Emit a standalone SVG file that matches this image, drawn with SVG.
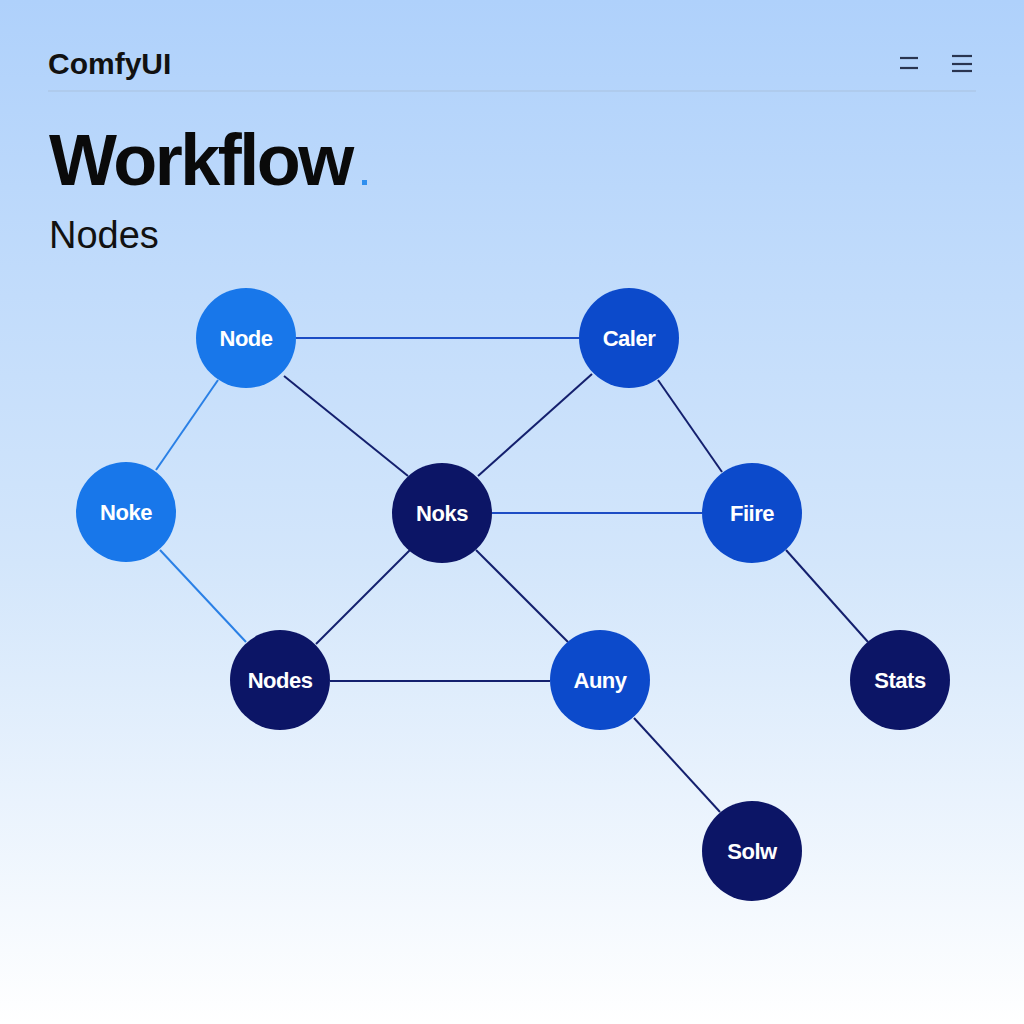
<svg xmlns="http://www.w3.org/2000/svg" width="1024" height="1024" viewBox="0 0 1024 1024">
<defs>
<linearGradient id="bg" x1="0" y1="0" x2="0" y2="1">
<stop offset="0" stop-color="#afd1fb"/>
<stop offset="0.55" stop-color="#d3e6fb"/>
<stop offset="1" stop-color="#ffffff"/>
</linearGradient>
<style>
.lbl{font-family:"Liberation Sans",Arial,sans-serif;font-size:22px;font-weight:bold;fill:#ffffff;text-anchor:middle;letter-spacing:-0.5px}
.e{stroke-width:2;fill:none}
.dk{stroke:#14206e}
.md{stroke:#1c4cc4}
.lt{stroke:#2a80e6}
.c1{fill:#1877ea}
.c2{fill:#0c4acb}
.c3{fill:#0c1566}
</style>
</defs>
<rect width="1024" height="1024" fill="url(#bg)"/>
<g id="header">
<text x="48" y="74" font-family="Liberation Sans,Arial,sans-serif" font-size="30" font-weight="bold" fill="#111111">ComfyUI</text>
<line x1="48" y1="91" x2="976" y2="91" stroke="#a9c2e0" stroke-width="1.2"/>
<g stroke="#2a3550" stroke-width="2.2">
<line x1="900" y1="58" x2="918" y2="58"/>
<line x1="900" y1="68" x2="918" y2="68"/>
<line x1="952" y1="56" x2="972" y2="56"/>
<line x1="952" y1="64" x2="972" y2="64"/>
<line x1="952" y1="71" x2="972" y2="71"/>
</g>
<text x="49" y="185" font-family="Liberation Sans,Arial,sans-serif" font-size="72" font-weight="bold" fill="#0a0a0a" letter-spacing="-2.5">Workflow</text>
<rect x="362" y="180" width="5" height="5" fill="#2f8fef"/>
<text x="49" y="248" font-family="Liberation Sans,Arial,sans-serif" font-size="38" fill="#111111">Nodes</text>
</g>
<g id="connectors">
<line class="e md" x1="296" y1="338" x2="579" y2="338"/>
<line class="e lt" x1="218" y1="380" x2="156" y2="470"/>
<line class="e dk" x1="284" y1="376" x2="408" y2="476"/>
<line class="e dk" x1="592" y1="374" x2="478" y2="476"/>
<line class="e dk" x1="658" y1="380" x2="722" y2="472"/>
<line class="e md" x1="492" y1="513" x2="702" y2="513"/>
<line class="e lt" x1="160" y1="550" x2="246" y2="642"/>
<line class="e dk" x1="410" y1="550" x2="316" y2="644"/>
<line class="e dk" x1="476" y1="550" x2="568" y2="642"/>
<line class="e dk" x1="330" y1="681" x2="550" y2="681"/>
<line class="e dk" x1="786" y1="550" x2="868" y2="642"/>
<line class="e dk" x1="634" y1="718" x2="720" y2="812"/>
</g>
<g id="n-node"><circle cx="246" cy="338" r="50" class="c1"/><text x="246" y="346" class="lbl">Node</text></g>
<g id="n-caler"><circle cx="629" cy="338" r="50" class="c2"/><text x="629" y="346" class="lbl">Caler</text></g>
<g id="n-noke"><circle cx="126" cy="512" r="50" class="c1"/><text x="126" y="520" class="lbl">Noke</text></g>
<g id="n-noks"><circle cx="442" cy="513" r="50" class="c3"/><text x="442" y="521" class="lbl">Noks</text></g>
<g id="n-fiire"><circle cx="752" cy="513" r="50" class="c2"/><text x="752" y="521" class="lbl">Fiire</text></g>
<g id="n-nodes"><circle cx="280" cy="680" r="50" class="c3"/><text x="280" y="688" class="lbl">Nodes</text></g>
<g id="n-auny"><circle cx="600" cy="680" r="50" class="c2"/><text x="600" y="688" class="lbl">Auny</text></g>
<g id="n-stats"><circle cx="900" cy="680" r="50" class="c3"/><text x="900" y="688" class="lbl">Stats</text></g>
<g id="n-solw"><circle cx="752" cy="851" r="50" class="c3"/><text x="752" y="859" class="lbl">Solw</text></g>
</svg>
